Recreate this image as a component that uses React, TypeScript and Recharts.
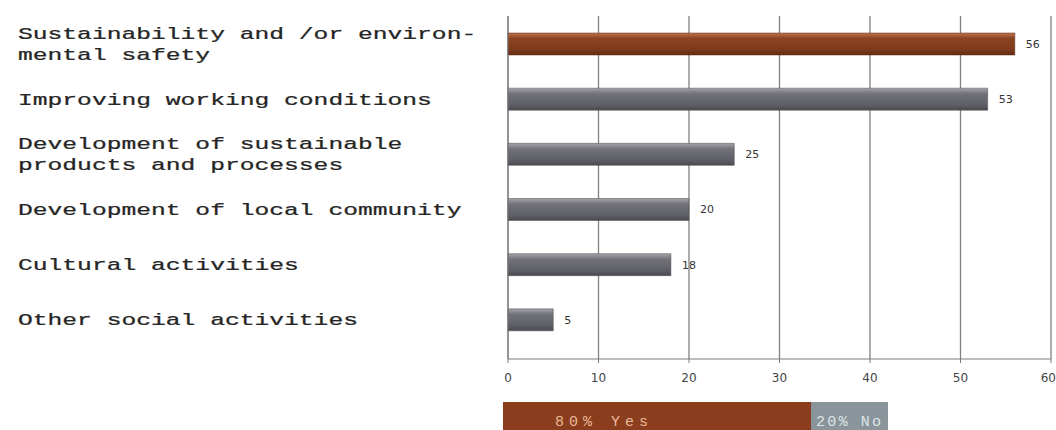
import { BarChart, Bar, XAxis, YAxis, CartesianGrid, Cell, LabelList } from 'recharts';

// activities, top to bottom, as written in the picture (line breaks kept)
const categories = [
  ['Sustainability and /or environ-', 'mental safety'],
  ['Improving working conditions'],
  ['Development of sustainable', 'products and processes'],
  ['Development of local community'],
  ['Cultural activities'],
  ['Other social activities'],
];
const values = [56, 53, 25, 20, 18, 5];
const xTicks = [0, 10, 20, 30, 40, 50, 60];

// the Yes / No strip under the chart
const answerYes = 80;
const answerNo = 20;

const data = categories.map((lines, i) => ({ key: lines.join(' '), lines, value: values[i] }));
const answers = [{ name: 'answers', yes: answerYes, no: answerNo }];

const MONO = '"Liberation Mono", "Courier New", monospace';
const SANS = '"DejaVu Sans", Verdana, sans-serif';

function CategoryTick({ y, payload, index }: any) {
  const lines: string[] = data[index]?.lines ?? [payload.value];
  const lh = 21;
  return (
    <text
      transform={`translate(18, ${y}) scale(1.45, 1)`}
      fontFamily={MONO}
      fontSize={17}
      fill="#262626"
      stroke="#262626"
      strokeWidth={0.25}
      textAnchor="start"
    >
      {lines.map((l, i) => (
        <tspan key={i} x={0} y={(i - (lines.length - 1) / 2) * lh} dy="0.35em">
          {l}
        </tspan>
      ))}
    </text>
  );
}

function AnswerLabel({ x, y, height, value, text, offset, spacing }: any) {
  return (
    <text
      x={x + offset}
      y={y + height / 2 + 3}
      fontFamily={MONO}
      fontSize={15}
      letterSpacing={spacing}
      dominantBaseline="central"
      fill={text === 'Yes' ? '#e9b896' : '#dde4e8'}
    >
      {`${value}% ${text}`}
    </text>
  );
}

export default function App() {
  return (
    <div style={{ position: 'fixed', left: 0, top: 0, width: 1056, height: 430, background: '#fff', overflow: 'hidden' }}>
      <BarChart
        width={1056}
        height={392}
        data={data}
        layout="vertical"
        margin={{ top: 16, right: 5, bottom: 0, left: 0 }}
        barCategoryGap={0}
      >
        <defs>
          <linearGradient id="gradGrey" x1="0" y1="0" x2="0" y2="1">
            <stop offset="0" stopColor="#a4a4aa" />
            <stop offset="0.25" stopColor="#727279" />
            <stop offset="0.75" stopColor="#5f5f67" />
            <stop offset="1" stopColor="#4a4a51" />
          </linearGradient>
          <linearGradient id="gradBrown" x1="0" y1="0" x2="0" y2="1">
            <stop offset="0" stopColor="#c0714a" />
            <stop offset="0.25" stopColor="#8c4322" />
            <stop offset="0.75" stopColor="#7e3a1b" />
            <stop offset="1" stopColor="#652c13" />
          </linearGradient>
        </defs>
        <CartesianGrid horizontal={false} stroke="#808080" strokeWidth={1.3} />
        <XAxis
          type="number"
          domain={[0, 60]}
          ticks={xTicks}
          height={33}
          stroke="#7a7a7a"
          tickSize={4}
          tick={{ fontFamily: SANS, fontSize: 12, fill: '#444' }}
          tickMargin={10}
        />
        <YAxis
          type="category"
          dataKey="key"
          width={508}
          stroke="#7a7a7a"
          tickLine={false}
          padding={{ top: 0, bottom: 12 }}
          tick={<CategoryTick />}
          interval={0}
        />
        <Bar dataKey="value" barSize={22} isAnimationActive={false} stroke="#4a4a50" strokeWidth={0.5}>
          {data.map((_, i) => (
            <Cell key={i} fill={i === 0 ? 'url(#gradBrown)' : 'url(#gradGrey)'} stroke={i === 0 ? '#5e2a12' : '#48484e'} />
          ))}
          <LabelList
            dataKey="value"
            position="right"
            offset={11}
            style={{ fontFamily: SANS, fontSize: 11, fill: '#333' }}
          />
        </Bar>
      </BarChart>
      <div style={{ position: 'absolute', left: 503, top: 399 }}>
        <BarChart
          width={385}
          height={40}
          data={answers}
          layout="vertical"
          margin={{ top: 0, right: 0, bottom: 0, left: 0 }}
          barCategoryGap={0}
        >
          <XAxis type="number" domain={[0, 100]} hide />
          <YAxis type="category" dataKey="name" hide />
          <Bar dataKey="yes" stackId="a" fill="#8a3e1e" barSize={34} isAnimationActive={false}>
            <LabelList dataKey="yes" content={(p: any) => <AnswerLabel {...p} text="Yes" offset={52} spacing={5} />} />
          </Bar>
          <Bar dataKey="no" stackId="a" fill="#8a959b" barSize={34} isAnimationActive={false}>
            <LabelList dataKey="no" content={(p: any) => <AnswerLabel {...p} text="No" offset={5} spacing={2.2} />} />
          </Bar>
        </BarChart>
      </div>
    </div>
  );
}
